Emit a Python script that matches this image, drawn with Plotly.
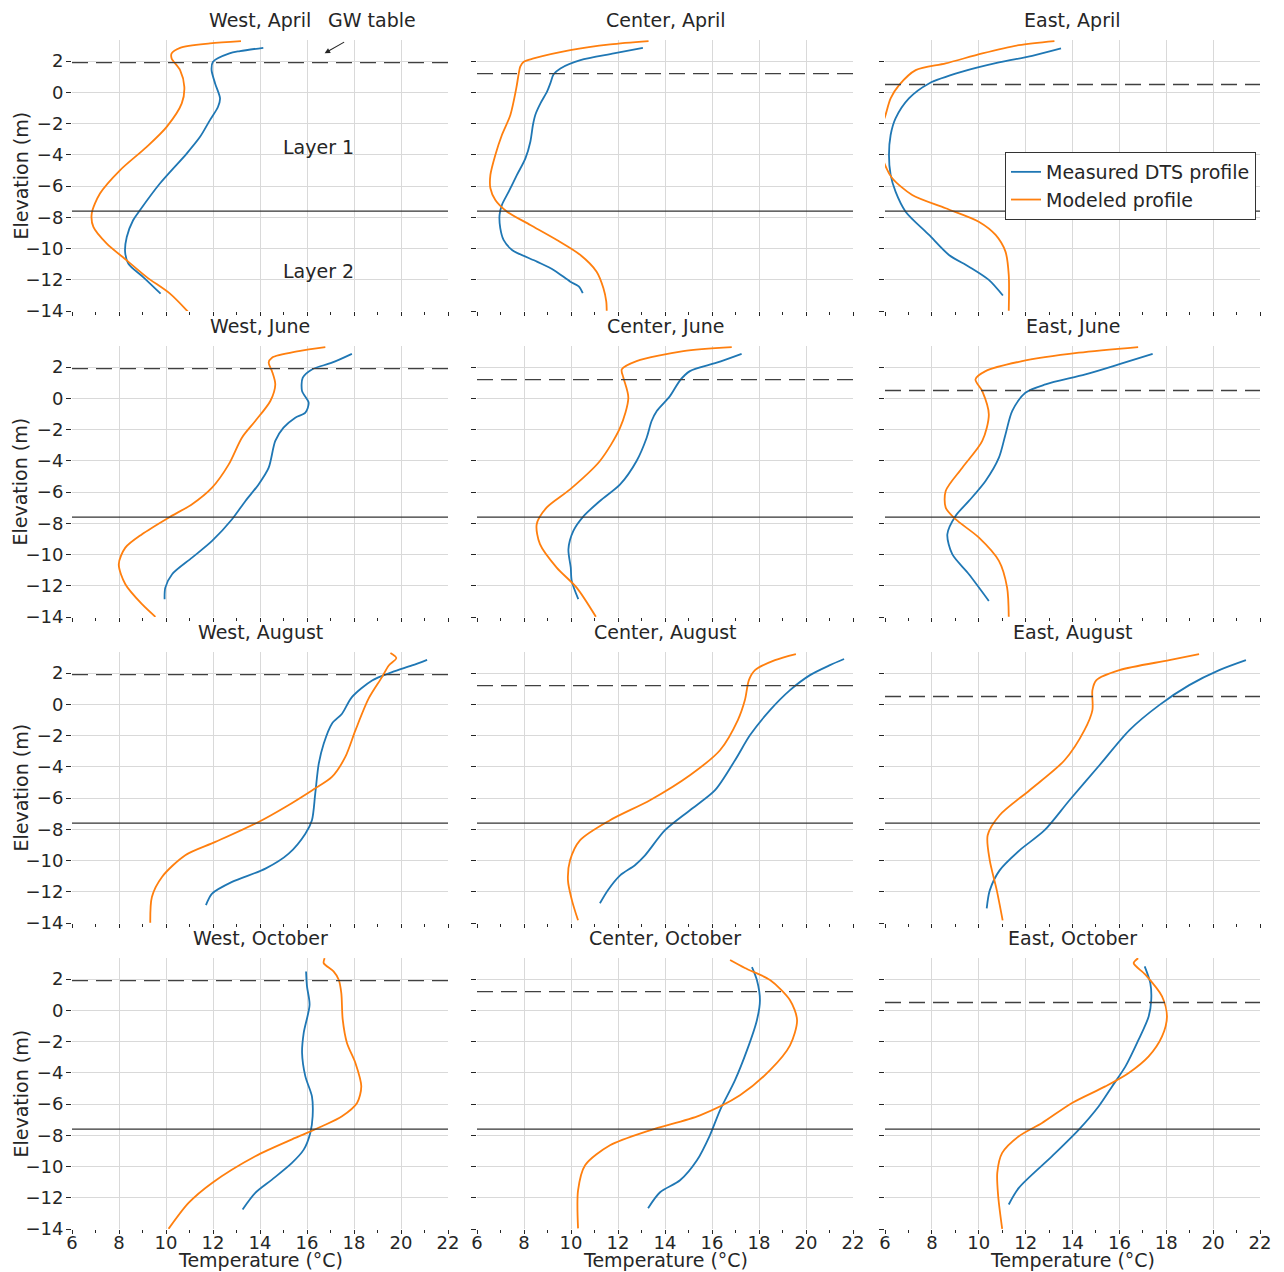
import plotly.graph_objects as go

# ---------------- DATA ----------------
sites = ["West", "Center", "East"]
months = ["April", "June", "August", "October"]
gw_table = [1.9, 1.2, 0.5]          # GW table elevation per site (m)
layer_boundary = -7.6               # Layer 1 / Layer 2 boundary (m)
temp_ticks = [6, 8, 10, 12, 14, 16, 18, 20, 22]
elev_ticks = [-14, -12, -10, -8, -6, -4, -2, 0, 2]

# West, April
west_apr_meas_T = [14.14, 13.15, 12.7, 12.0, 11.94, 12.09, 12.3, 12.21, 11.87, 11.45, 10.88, 9.74, 8.89, 8.6, 8.33, 8.26, 8.4, 9.03, 9.77]
west_apr_meas_z = [2.85, 2.64, 2.5, 1.96, 1.42, 0.57, -0.39, -0.94, -1.78, -2.85, -3.92, -5.84, -7.55, -8.19, -9.26, -10.22, -10.97, -11.83, -12.89]
west_apr_mod_T = [13.19, 11.87, 10.6, 10.24, 10.24, 10.6, 10.78, 10.67, 10.03, 9.18, 8.04, 7.19, 6.84, 6.91, 7.48, 8.33, 9.18, 10.17, 10.95]
west_apr_mod_z = [3.28, 3.13, 2.85, 2.49, 2.17, 1.42, 0.35, -0.71, -2.21, -3.49, -4.99, -6.48, -7.76, -8.62, -9.69, -10.76, -11.83, -12.89, -14.07]

# Center, April
center_apr_meas_T = [13.06, 11.82, 10.4, 9.55, 9.26, 9.12, 8.98, 8.7, 8.48, 8.38, 8.27, 8.06, 7.7, 7.35, 7.06, 6.96, 6.99, 7.13, 7.49, 8.55, 9.26, 9.97, 10.33, 10.5]
center_apr_meas_z = [2.85, 2.49, 2.06, 1.53, 1.15, 0.57, 0.04, -0.71, -1.45, -2.09, -3.16, -4.23, -5.29, -6.36, -7.21, -7.85, -8.7, -9.45, -10.09, -10.84, -11.37, -12.12, -12.43, -12.86]
center_apr_mod_T = [13.3, 11.67, 9.97, 8.41, 7.99, 7.84, 7.77, 7.67, 7.42, 7.06, 6.78, 6.57, 6.57, 6.78, 7.28, 8.27, 9.4, 10.4, 11.09, 11.38, 11.5, 11.52]
center_apr_mod_z = [3.28, 3.07, 2.7, 2.17, 1.96, 1.64, 1.15, 0.25, -1.45, -2.73, -4.01, -5.29, -6.14, -6.89, -7.64, -8.49, -9.45, -10.41, -11.48, -12.54, -13.39, -13.99]

# East, April
east_apr_meas_T = [13.51, 12.28, 10.86, 9.3, 7.88, 7.02, 6.45, 6.24, 6.17, 6.24, 6.45, 6.88, 7.88, 8.73, 9.58, 10.43, 11.03]
east_apr_meas_z = [2.81, 2.34, 1.91, 1.32, 0.57, -0.39, -1.67, -2.73, -4.01, -5.29, -6.36, -7.64, -9.13, -10.41, -11.16, -12.01, -13.01]
east_apr_mod_T = [13.23, 11.71, 10.15, 8.59, 7.31, 6.6, 6.24, 6.0, 5.8, 5.75, 6.0, 6.31, 7.16, 8.59, 10.0, 10.72, 11.14, 11.28, 11.28]
east_apr_mod_z = [3.28, 3.02, 2.49, 1.85, 1.42, 0.46, -0.39, -1.56, -2.4, -3.3, -4.65, -5.5, -6.57, -7.42, -8.28, -9.13, -10.2, -11.69, -13.99]

# West, June
west_jun_meas_T = [17.91, 17.06, 16.21, 15.82, 15.79, 16.07, 15.93, 15.5, 15.0, 14.65, 14.37, 13.94, 13.38, 12.81, 11.96, 11.11, 10.26, 9.97, 9.94]
west_jun_meas_z = [2.85, 2.28, 1.85, 1.32, 0.46, -0.28, -0.92, -1.24, -1.88, -2.73, -4.44, -5.51, -6.57, -7.74, -9.13, -10.2, -11.26, -12.12, -12.86]
west_jun_mod_T = [16.78, 15.65, 14.51, 14.37, 14.51, 14.65, 14.44, 13.8, 13.23, 12.67, 11.96, 11.11, 10.11, 8.98, 8.27, 7.99, 8.27, 8.98, 9.55]
west_jun_mod_z = [3.28, 3.02, 2.6, 2.28, 1.74, 0.89, -0.17, -1.45, -2.52, -4.23, -5.72, -6.78, -7.64, -8.7, -9.56, -10.62, -11.9, -13.18, -13.99]

# Center, June
center_jun_meas_T = [17.26, 16.2, 15.06, 14.64, 14.21, 13.65, 13.43, 13.22, 12.79, 12.09, 11.23, 10.52, 10.1, 9.89, 9.99, 10.03, 10.31]
center_jun_meas_z = [2.85, 2.28, 1.74, 1.15, 0.14, -0.81, -1.45, -2.52, -4.01, -5.51, -6.57, -7.57, -8.49, -9.66, -10.84, -11.69, -12.86]
center_jun_mod_T = [16.84, 14.78, 12.79, 12.16, 12.23, 12.44, 12.09, 11.23, 9.96, 8.96, 8.54, 8.68, 9.39, 10.24, 11.06]
center_jun_mod_z = [3.28, 3.02, 2.38, 1.85, 1.32, 0.04, -1.88, -4.01, -5.83, -7.0, -8.06, -9.34, -10.84, -12.12, -13.99]

# East, June
east_jun_meas_T = [17.42, 15.97, 14.55, 12.85, 11.99, 11.43, 11.14, 10.86, 10.29, 9.58, 9.01, 8.66, 8.87, 9.58, 10.43]
east_jun_meas_z = [2.85, 2.17, 1.53, 0.89, 0.36, -0.81, -2.31, -3.8, -5.29, -6.57, -7.53, -8.7, -9.98, -11.26, -12.97]
east_jun_mod_T = [16.8, 14.27, 11.85, 10.29, 9.86, 10.15, 10.43, 10.15, 9.3, 8.59, 8.59, 9.01, 10.01, 10.86, 11.21, 11.28]
east_jun_mod_z = [3.28, 2.92, 2.38, 1.74, 1.21, 0.46, -1.03, -2.73, -4.44, -5.93, -7.0, -7.74, -8.92, -10.41, -12.12, -13.99]

# West, August
west_aug_meas_T = [21.11, 20.47, 19.62, 18.77, 17.91, 17.49, 17.06, 16.71, 16.5, 16.35, 16.21, 15.93, 15.22, 14.23, 12.81, 11.96, 11.7]
west_aug_meas_z = [2.85, 2.49, 2.06, 1.53, 0.46, -0.6, -1.24, -2.52, -3.8, -5.72, -7.42, -8.28, -9.56, -10.52, -11.37, -12.12, -12.86]
west_aug_mod_T = [19.55, 19.8, 19.48, 19.19, 18.62, 18.06, 17.63, 17.06, 16.21, 15.08, 13.94, 12.1, 10.82, 9.83, 9.4, 9.33]
west_aug_mod_z = [3.28, 2.96, 2.49, 1.74, 0.36, -1.67, -3.37, -4.65, -5.51, -6.57, -7.53, -8.81, -9.66, -11.05, -12.33, -13.99]

# Center, August
center_aug_meas_T = [21.62, 21.02, 20.17, 19.32, 18.47, 17.62, 16.98, 16.13, 15.06, 14.0, 13.15, 12.72, 12.09, 11.57, 11.23]
center_aug_meas_z = [2.9, 2.51, 1.87, 0.91, -0.37, -1.97, -3.58, -5.5, -6.78, -8.06, -9.67, -10.3, -10.95, -11.9, -12.74]
center_aug_mod_T = [19.57, 18.68, 17.83, 17.57, 17.4, 17.1, 16.34, 15.06, 13.36, 11.66, 10.38, 9.96, 9.87, 10.04, 10.3]
center_aug_mod_z = [3.22, 2.83, 2.19, 1.55, 0.27, -1.01, -2.94, -4.54, -6.14, -7.42, -8.71, -9.99, -11.27, -12.55, -13.83]

# East, August
east_aug_meas_T = [21.4, 20.26, 18.98, 17.7, 16.43, 15.15, 13.87, 12.81, 11.74, 10.89, 10.47, 10.34]
east_aug_meas_z = [2.83, 2.19, 1.23, -0.05, -1.65, -3.9, -6.14, -8.06, -9.35, -10.63, -11.91, -13.06]
east_aug_mod_T = [19.4, 18.13, 16.0, 15.02, 14.85, 14.85, 14.51, 13.66, 12.17, 10.89, 10.38, 10.47, 10.77, 11.02]
east_aug_mod_z = [3.22, 2.83, 2.19, 1.55, 0.91, -0.37, -1.65, -3.58, -5.5, -7.1, -8.38, -9.99, -11.91, -13.83]

# West, October
west_oct_meas_T = [15.96, 16.0, 16.11, 15.86, 15.79, 15.93, 16.21, 16.24, 16.14, 15.86, 15.36, 14.51, 13.8, 13.26]
west_oct_meas_z = [2.49, 1.53, 0.36, -1.45, -2.73, -4.23, -5.51, -6.78, -7.85, -8.92, -9.77, -10.84, -11.69, -12.75]
west_oct_mod_T = [16.75, 16.71, 17.13, 17.35, 17.46, 17.52, 17.7, 18.06, 18.31, 18.13, 17.49, 16.64, 15.5, 13.8, 11.96, 10.96, 10.11]
west_oct_mod_z = [3.34, 3.02, 2.49, 1.96, 1.1, -0.6, -2.09, -3.37, -4.87, -5.93, -6.78, -7.42, -8.17, -9.34, -11.05, -12.33, -13.99]

# Center, October
center_oct_meas_T = [17.7, 17.91, 18.04, 17.91, 17.49, 16.98, 16.34, 15.91, 15.36, 14.64, 13.79, 13.28]
center_oct_meas_z = [2.77, 1.94, 0.65, -0.63, -2.55, -4.47, -6.4, -8.0, -9.6, -10.88, -11.65, -12.67]
center_oct_mod_T = [16.77, 17.4, 18.47, 19.32, 19.62, 19.32, 18.47, 17.19, 15.49, 13.36, 11.66, 10.6, 10.3, 10.3]
center_oct_mod_z = [3.22, 2.71, 1.94, 0.65, -0.63, -2.24, -3.83, -5.44, -6.72, -7.68, -8.64, -9.92, -11.53, -13.96]

# East, October
east_oct_meas_T = [17.08, 17.32, 17.36, 17.25, 16.82, 16.26, 15.69, 15.12, 14.27, 13.13, 11.71, 11.28]
east_oct_meas_z = [2.81, 1.74, 0.68, -0.39, -1.88, -3.59, -4.87, -6.14, -7.64, -9.34, -11.37, -12.43]
east_oct_mod_T = [16.8, 16.61, 17.11, 17.82, 18.03, 17.82, 17.25, 16.4, 15.4, 13.98, 12.7, 11.71, 11.0, 10.79, 10.83, 11.0]
east_oct_mod_z = [3.34, 3.02, 2.28, 0.89, -0.39, -1.67, -2.95, -4.01, -4.87, -5.93, -7.21, -8.06, -9.13, -10.41, -11.9, -13.99]

measured = {
    ("West", "April"): (west_apr_meas_T, west_apr_meas_z),
    ("Center", "April"): (center_apr_meas_T, center_apr_meas_z),
    ("East", "April"): (east_apr_meas_T, east_apr_meas_z),
    ("West", "June"): (west_jun_meas_T, west_jun_meas_z),
    ("Center", "June"): (center_jun_meas_T, center_jun_meas_z),
    ("East", "June"): (east_jun_meas_T, east_jun_meas_z),
    ("West", "August"): (west_aug_meas_T, west_aug_meas_z),
    ("Center", "August"): (center_aug_meas_T, center_aug_meas_z),
    ("East", "August"): (east_aug_meas_T, east_aug_meas_z),
    ("West", "October"): (west_oct_meas_T, west_oct_meas_z),
    ("Center", "October"): (center_oct_meas_T, center_oct_meas_z),
    ("East", "October"): (east_oct_meas_T, east_oct_meas_z),
}
modeled = {
    ("West", "April"): (west_apr_mod_T, west_apr_mod_z),
    ("Center", "April"): (center_apr_mod_T, center_apr_mod_z),
    ("East", "April"): (east_apr_mod_T, east_apr_mod_z),
    ("West", "June"): (west_jun_mod_T, west_jun_mod_z),
    ("Center", "June"): (center_jun_mod_T, center_jun_mod_z),
    ("East", "June"): (east_jun_mod_T, east_jun_mod_z),
    ("West", "August"): (west_aug_mod_T, west_aug_mod_z),
    ("Center", "August"): (center_aug_mod_T, center_aug_mod_z),
    ("East", "August"): (east_aug_mod_T, east_aug_mod_z),
    ("West", "October"): (west_oct_mod_T, west_oct_mod_z),
    ("Center", "October"): (center_oct_mod_T, center_oct_mod_z),
    ("East", "October"): (east_oct_mod_T, east_oct_mod_z),
}

# ---------------- LAYOUT ----------------
# the page body has an 8px margin, so the figure is drawn 8px smaller and
# reference pixel positions are shifted by that offset
OFF = 8
W, H = 1284 - OFF, 1272 - OFF
ML, MR, MT, MB = 50, 10, 30, 30
PW, PH = W - ML - MR, H - MT - MB
col_px = [(72, 448), (477, 853), (885, 1260)]
row_px = [(40, 311), (346, 617), (652, 923), (958, 1229)]
FONT = "DejaVu Sans, Liberation Sans, sans-serif"
TXT = "#262626"
BLUE = "#1f77b4"
ORANGE = "#ff7f0e"
GRID = "#d9d9d9"
TICK_FS = 18
LABEL_FS = 19


def px_x(px):
    return (px - OFF - ML) / PW


def px_y(py):
    return (H - MB - (py - OFF)) / PH


fig = go.Figure()
annotations = []
shapes = []
layout_axes = {}

for r, month in enumerate(months):
    for c, site in enumerate(sites):
        k = r * 3 + c + 1
        xn = "x" if k == 1 else f"x{k}"
        yn = "y" if k == 1 else f"y{k}"
        xa = "xaxis" if k == 1 else f"xaxis{k}"
        ya = "yaxis" if k == 1 else f"yaxis{k}"

        mT, mz = measured[(site, month)]
        oT, oz = modeled[(site, month)]
        first = (site == "East" and month == "April")
        fig.add_trace(go.Scatter(
            x=mT, y=mz, mode="lines", name="Measured DTS profile",
            line=dict(color=BLUE, width=1.8, shape="spline", smoothing=0.8),
            xaxis=xn, yaxis=yn, showlegend=first, legendgroup="meas"))
        fig.add_trace(go.Scatter(
            x=oT, y=oz, mode="lines", name="Modeled profile",
            line=dict(color=ORANGE, width=1.8, shape="spline", smoothing=0.8),
            xaxis=xn, yaxis=yn, showlegend=first, legendgroup="mod"))

        x0, x1 = col_px[c]
        y0, y1 = row_px[r]
        layout_axes[xa] = dict(
            domain=[px_x(x0), px_x(x1)], range=[6, 22], anchor=yn,
            tickvals=temp_ticks, showticklabels=(r == 3), automargin=False,
            showgrid=True, gridcolor=GRID, gridwidth=1.3,
            zeroline=False, showline=False,
            ticks="outside", ticklen=4, tickwidth=1.3, tickcolor=TXT,
            ticklabelstandoff=-7,
            minor=dict(dtick=1, ticks="outside", ticklen=3, tickwidth=1.1,
                       tickcolor=TXT, showgrid=False),
            tickfont=dict(family=FONT, size=TICK_FS, color=TXT),
        )
        layout_axes[ya] = dict(
            domain=[px_y(y1), px_y(y0)], range=[-14, 3.35], anchor=xn,
            tickvals=elev_ticks, showticklabels=(c == 0), automargin=False,
            showgrid=True, gridcolor=GRID, gridwidth=1.3,
            zeroline=False, showline=False,
            ticks="outside", ticklen=5, tickwidth=1.3, tickcolor=TXT,
            ticklabelstandoff=-1,
            tickfont=dict(family=FONT, size=TICK_FS, color=TXT),
        )

        # GW table (dashed) and layer boundary (solid)
        shapes.append(dict(type="line", xref=f"{xn} domain", yref=yn,
                           x0=0, x1=1, y0=gw_table[c], y1=gw_table[c],
                           line=dict(color="#404040", width=1.3, dash="16px,8px")))
        shapes.append(dict(type="line", xref=f"{xn} domain", yref=yn,
                           x0=0, x1=1, y0=layer_boundary, y1=layer_boundary,
                           line=dict(color="#333333", width=1.3)))

        # subplot title
        annotations.append(dict(
            text=f"{site}, {month}", xref="paper", yref="paper",
            x=px_x((x0 + x1) / 2), y=px_y(y0 - 20),
            xanchor="center", yanchor="middle", showarrow=False,
            font=dict(family=FONT, size=LABEL_FS, color=TXT)))

        if c == 0:
            annotations.append(dict(
                text="Elevation (m)", xref="paper", yref="paper",
                x=px_x(20), y=px_y((y0 + y1) / 2), textangle=-90,
                xanchor="center", yanchor="middle", showarrow=False,
                font=dict(family=FONT, size=LABEL_FS, color=TXT)))
        if r == 3:
            annotations.append(dict(
                text="Temperature (°C)", xref="paper", yref="paper",
                x=px_x((x0 + x1) / 2), y=px_y(1260),
                xanchor="center", yanchor="middle", showarrow=False,
                font=dict(family=FONT, size=LABEL_FS, color=TXT)))

# Layer labels and GW table arrow in West, April
annotations.append(dict(text="Layer 1", xref="x", yref="y", x=16.47, y=-3.5,
                        showarrow=False, font=dict(family=FONT, size=LABEL_FS, color=TXT)))
annotations.append(dict(text="Layer 2", xref="x", yref="y", x=16.47, y=-11.45,
                        showarrow=False, font=dict(family=FONT, size=LABEL_FS, color=TXT)))
annotations.append(dict(text="GW table", xref="paper", yref="paper",
                        x=px_x(372), y=px_y(20), xanchor="center", yanchor="middle",
                        showarrow=False, font=dict(family=FONT, size=LABEL_FS, color=TXT)))
annotations.append(dict(text="", xref="x", yref="y", x=16.75, y=2.5,
                        showarrow=True, axref="pixel", ayref="pixel", ax=21, ay=-12,
                        arrowhead=2, arrowsize=1, arrowwidth=1.1, arrowcolor=TXT))

fig.update_layout(
    width=W, height=H,
    margin=dict(l=ML, r=MR, t=MT, b=MB, autoexpand=False),
    paper_bgcolor="white", plot_bgcolor="white",
    font=dict(family=FONT, size=TICK_FS, color=TXT),
    showlegend=True,
    legend=dict(x=px_x(1256), y=px_y(152), xanchor="right", yanchor="top",
                bgcolor="white", bordercolor="#333333", borderwidth=1,
                font=dict(family=FONT, size=19, color=TXT),
                itemwidth=30, tracegroupgap=0),
    shapes=shapes, annotations=annotations,
    **layout_axes,
)

fig.write_html("out.html")
